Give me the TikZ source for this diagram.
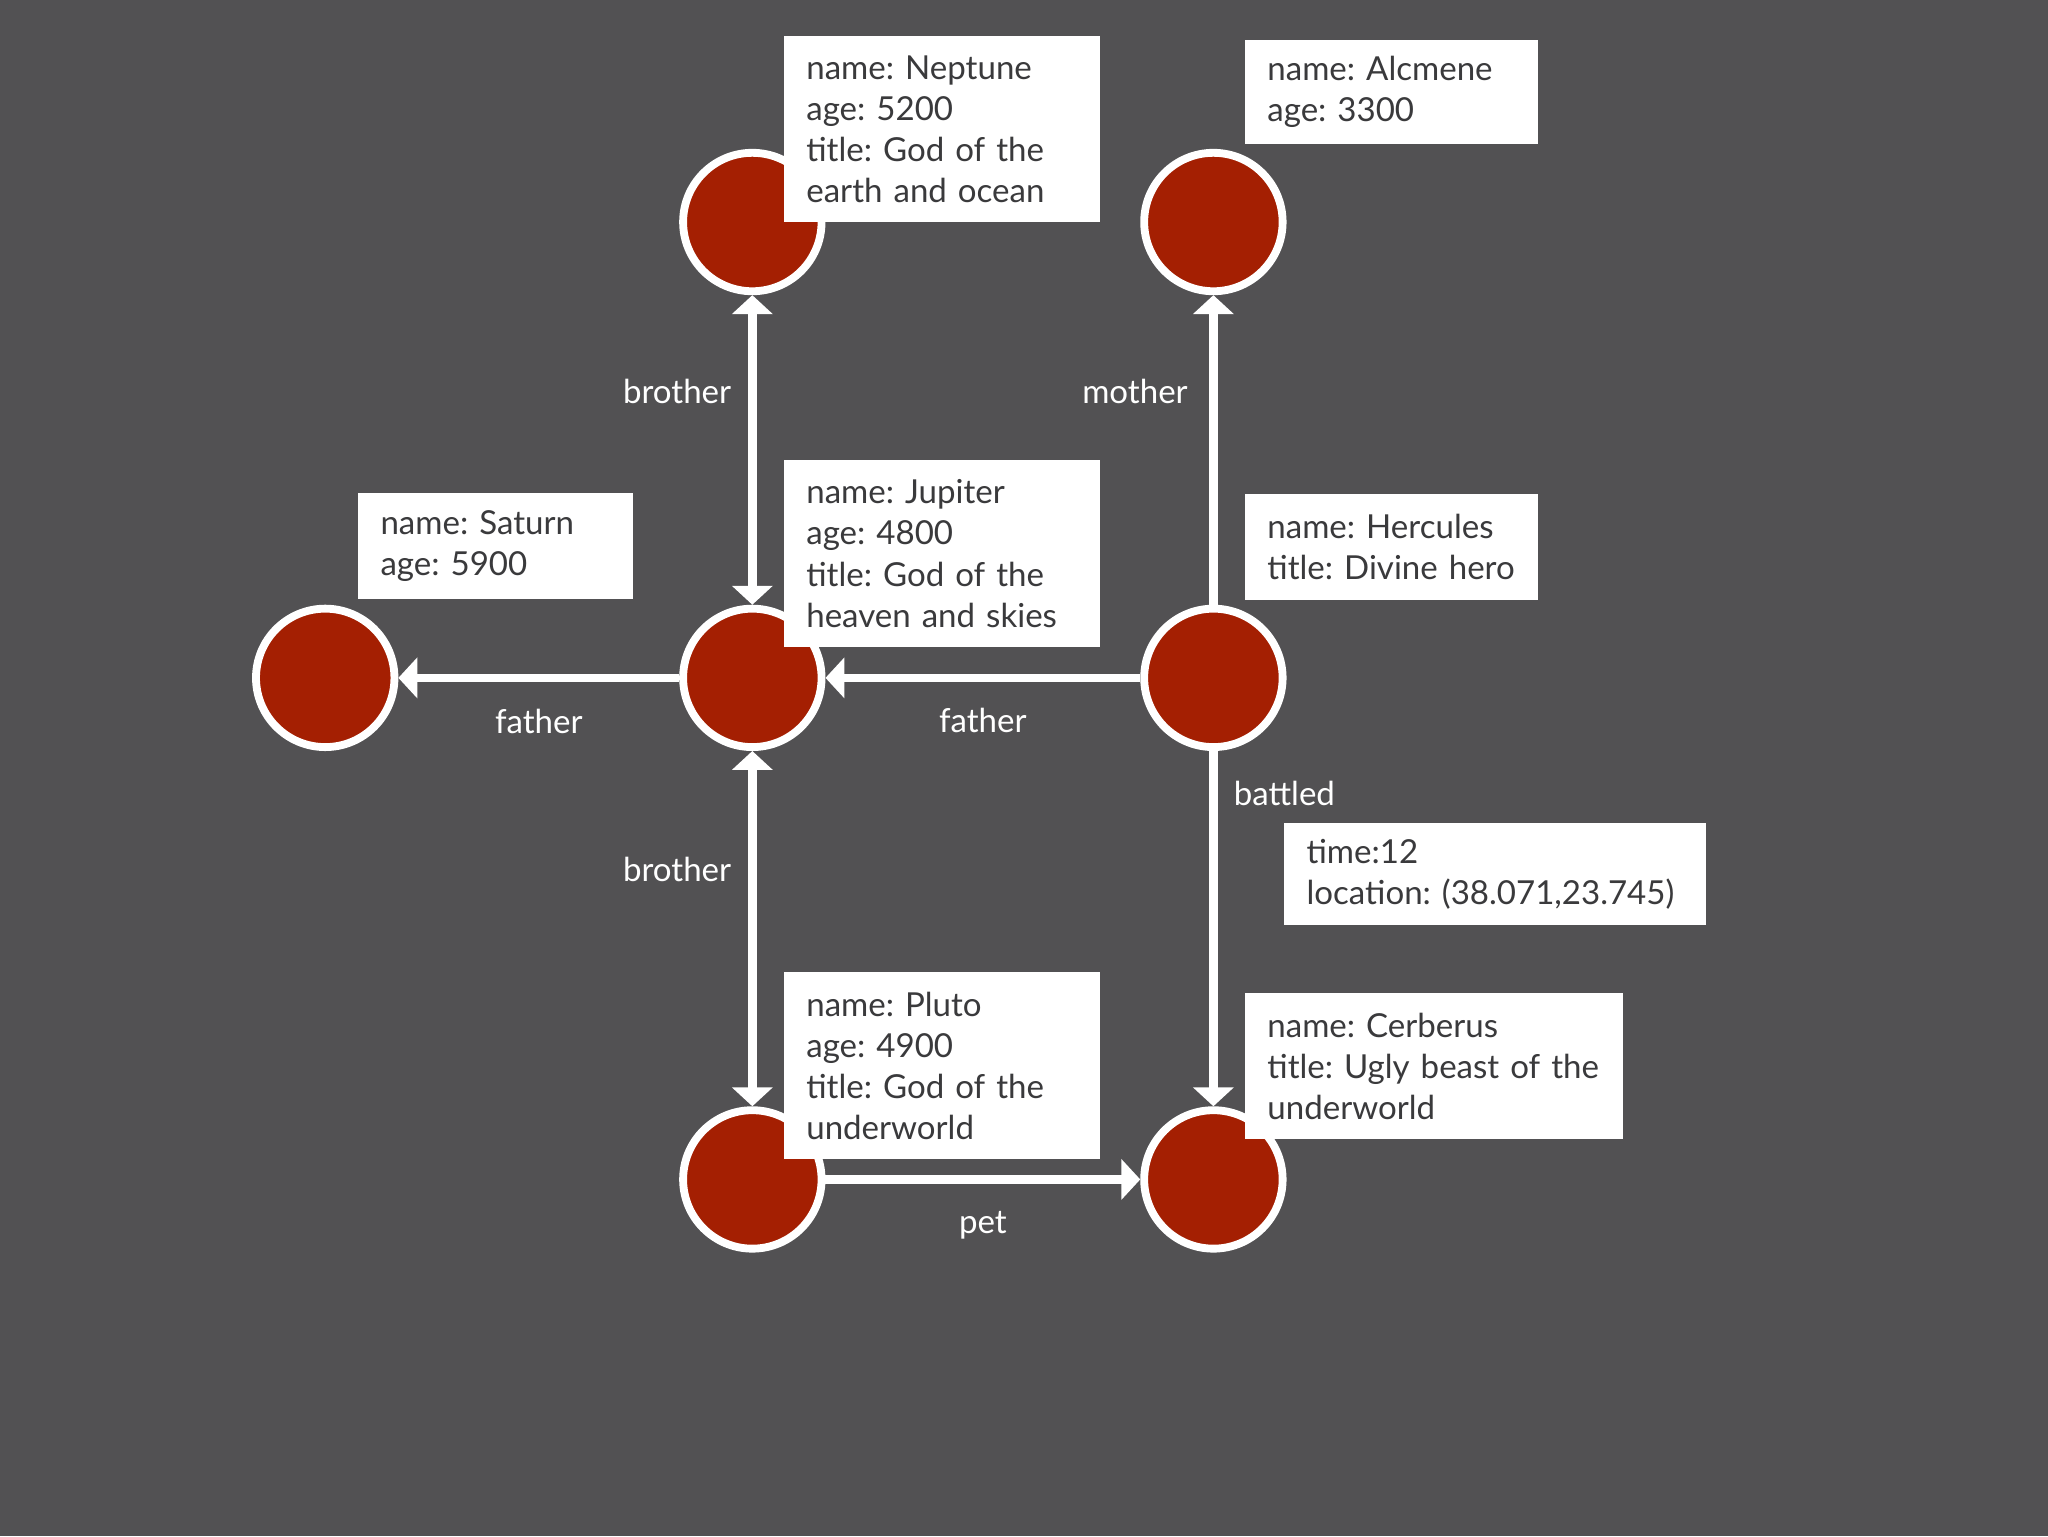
\documentclass[tikz,border=0pt]{standalone}
\usepackage{fontspec}
\setmainfont{Lato}
\usetikzlibrary{arrows.meta,positioning}
\definecolor{bgcol}{RGB}{82,81,83}
\definecolor{godred}{RGB}{164,31,2}
\definecolor{infotext}{RGB}{58,58,60}
\frenchspacing
\newcommand{\gfont}{\fontsize{14.4}{17.9}\selectfont}
\tikzset{
god/.style={circle,draw=white,fill=godred,line width=0.12cm,minimum size=2.12cm,inner sep=0pt},
info/.style={fill=white,text=infotext,anchor=north west,align=left,inner xsep=0pt,inner ysep=0pt,font=\gfont,execute at begin node={\leftskip=0.34cm}},
lbl/.style={text=white,inner sep=0pt,font=\gfont},
rel/.style={draw=white,line width=0.128cm}
}
\begin{document}
\begin{tikzpicture}[>={Triangle[width=0.61cm,length=0.29cm]}]
\fill[bgcol](0,0)rectangle(31.36,23.52);
\useasboundingbox(0,0)rectangle(31.36,23.52);
\node[god](nep)at(11.52,20.12){};
\node[god](alc)at(18.58,20.12){};
\node[god](sat)at(4.98,13.14){};
\node[god](jup)at(11.52,13.14){};
\node[god](her)at(18.58,13.14){};
\node[god](plu)at(11.52,5.46){};
\node[god](cer)at(18.58,5.46){};
\draw[rel,<->](jup)--node[lbl,pos=0.69,left=0.26cm]{brother}(nep);
\draw[rel,->](her)--node[lbl,pos=0.69,left=0.33cm]{mother}(alc);
\draw[rel,->](jup)--node[lbl,below=0.42cm]{father}(sat);
\draw[rel,->](her)--node[lbl,below=0.4cm]{father}(jup);
\draw[rel,<->](jup)--node[lbl,pos=0.333,left=0.26cm]{brother}(plu);
\draw[rel,->](her)--node[lbl,pos=0.12,right=0.25cm]{battled}(cer);
\draw[rel,->](plu)--node[lbl,below=0.42cm]{pet}(cer);
\node[info,text width=4.84cm,minimum height=2.86cm](nepinfo)at(12.00,22.98){name: Neptune\\age: 5200\\title: God of the\\earth and ocean};
\node[info,text width=4.48cm,minimum height=1.60cm](alcinfo)at(19.06,22.92){name: Alcmene\\age: 3300};
\node[info,text width=4.20cm,minimum height=1.62cm](satinfo)at(5.48,15.98){name: Saturn\\age: 5900};
\node[info,text width=4.84cm,minimum height=2.86cm](jupinfo)at(12.00,16.48){name: Jupiter\\age: 4800\\title: God of the\\heaven and skies};
\node[info,text width=4.48cm,minimum height=1.62cm](herinfo)at(19.06,15.96){name: Hercules\\title: Divine hero};
\node[info,text width=4.84cm,minimum height=2.86cm](pluinfo)at(12.00,8.64){name: Pluto\\age: 4900\\title: God of the\\underworld};
\node[info,text width=5.78cm,minimum height=2.24cm](cerinfo)at(19.06,8.32){name: Cerberus\\title: Ugly beast of the\\underworld};
\node[info,text width=6.46cm,minimum height=1.56cm](batinfo)at(19.66,10.92){time:12\\location: (38.071,23.745)};
\end{tikzpicture}
\end{document}
